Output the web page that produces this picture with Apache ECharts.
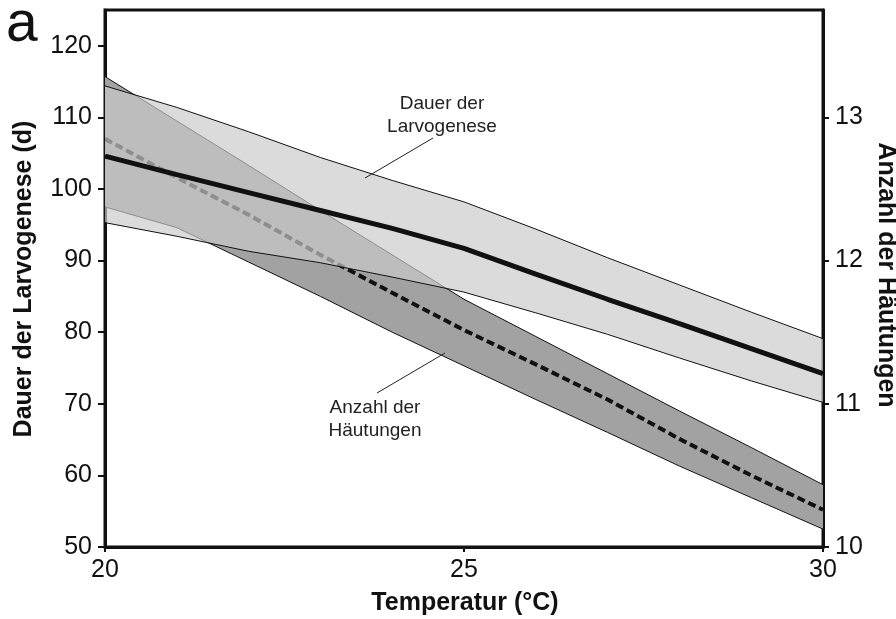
<!DOCTYPE html>
<html>
<head>
<meta charset="utf-8">
<script src="https://cdn.jsdelivr.net/npm/echarts@6/dist/echarts.min.js"></script>
<style>html,body{margin:0;padding:0;background:#fff}#c{width:896px;height:619px}</style>
</head>
<body>
<div id="c"></div>
<script>
// ---- data ----
const temperatures = ['20','21','22','23','24','25','26','27','28','29','30'];
const xTickLabels = ['20','25','30'];
const leftTicks = [50, 60, 70, 80, 90, 100, 110, 120];
const rightTicks = [10, 11, 12, 13];

// Dauer der Larvogenese (d) – left axis
const dauerFit   = [104.6, 102.0, 99.5, 97.0, 94.5, 91.7, 88.1, 84.6, 81.2, 77.7, 74.2];
const dauerUpper = [114.4, 111.4, 108.0, 104.4, 101.2, 98.2, 94.4, 90.4, 86.6, 82.8, 79.1];
const dauerLower = [95.3, 93.4, 91.3, 89.7, 87.7, 85.6, 82.7, 79.7, 76.4, 73.2, 70.2];

// Anzahl der Häutungen – right axis
const haeutFit   = [12.85, 12.58, 12.32, 12.04, 11.775, 11.515, 11.275, 11.03, 10.755, 10.5, 10.26];
const haeutUpper = [13.285, 12.975, 12.665, 12.35, 12.04, 11.73, 11.47, 11.21, 10.95, 10.695, 10.435];
const haeutLower = [12.375, 12.23, 11.99, 11.75, 11.5, 11.265, 11.03, 10.8, 10.565, 10.345, 10.125];

const xTitle = 'Temperatur (°C)';
const yLeftTitle = 'Dauer der Larvogenese (d)';
const yRightTitle = 'Anzahl der Häutungen';
const panelLabel = 'a';
const noteDauer = 'Dauer der\nLarvogenese';
const noteHaeut = 'Anzahl der\nHäutungen';

// ---- chart ----
const FONT = "'Liberation Sans', Arial, sans-serif";
const dauerWidth = dauerUpper.map((v, i) => +(v - dauerLower[i]).toFixed(3));
const haeutWidth = haeutUpper.map((v, i) => +(v - haeutLower[i]).toFixed(3));

const chart = echarts.init(document.getElementById('c'), null, {renderer: 'canvas'});
const edge = {color: '#111', width: 1};
const option = {
  animation: false,
  backgroundColor: '#fff',
  grid: {left: 105, right: 73, top: 10, bottom: 72, show: true, borderColor: '#111', borderWidth: 3, backgroundColor: 'transparent', containLabel: false},
  xAxis: {
    type: 'category', data: temperatures, boundaryGap: false,
    axisLine: {lineStyle: {color: '#111', width: 3}},
    axisTick: {interval: 4, length: 5, lineStyle: {color: '#111', width: 2}},
    axisLabel: {interval: 4, margin: 11, color: '#111', fontSize: 25, fontFamily: FONT,
      formatter: v => xTickLabels.indexOf(v) >= 0 ? v : ''},
    splitLine: {show: false}
  },
  yAxis: [{
    type: 'value', min: 50, max: 125, interval: 10, position: 'left',
    axisLine: {show: true, lineStyle: {color: '#111', width: 3}},
    axisTick: {show: true, length: 7, customValues: leftTicks, lineStyle: {color: '#111', width: 2}},
    axisLabel: {customValues: leftTicks, margin: 13, color: '#111', fontSize: 25, fontFamily: FONT},
    splitLine: {show: false}
  }, {
    type: 'value', min: 10, max: 13.75, interval: 1, position: 'right',
    axisLine: {show: true, lineStyle: {color: '#111', width: 3}},
    axisTick: {show: true, length: 6, customValues: rightTicks, lineStyle: {color: '#111', width: 2}},
    axisLabel: {customValues: rightTicks, margin: 12, color: '#111', fontSize: 25, fontFamily: FONT},
    splitLine: {show: false}
  }],
  series: [
    {name: 'Häutungen unten', type: 'line', yAxisIndex: 1, stack: 'h', data: haeutLower,
     symbol: 'none', lineStyle: edge, z: 1, silent: true, emphasis: {disabled: true}},
    {name: 'Häutungen Band', type: 'line', yAxisIndex: 1, stack: 'h', data: haeutWidth,
     symbol: 'none', lineStyle: edge, areaStyle: {color: '#a2a2a2', opacity: 1}, z: 1, silent: true, emphasis: {disabled: true}},
    {name: 'Anzahl der Häutungen', type: 'line', yAxisIndex: 1, data: haeutFit,
     symbol: 'none', lineStyle: {color: '#111', width: 4, type: [8, 4]}, z: 2, silent: true, emphasis: {disabled: true}},
    {name: 'Dauer unten', type: 'line', yAxisIndex: 0, stack: 'd', data: dauerLower,
     symbol: 'none', lineStyle: edge, z: 3, silent: true, emphasis: {disabled: true}},
    {name: 'Dauer Band', type: 'line', yAxisIndex: 0, stack: 'd', data: dauerWidth,
     symbol: 'none', lineStyle: edge, areaStyle: {color: 'rgb(202,202,202)', opacity: 0.68}, z: 3, silent: true, emphasis: {disabled: true}},
    {name: 'Dauer der Larvogenese', type: 'line', yAxisIndex: 0, data: dauerFit,
     symbol: 'none', lineStyle: {color: '#111', width: 5}, z: 4, silent: true, emphasis: {disabled: true}}
  ],
  graphic: [
    {type: 'text', left: 6, top: -3, style: {text: panelLabel, font: '57px ' + FONT, fill: '#111'}},
    {type: 'text', x: 465, y: 603, style: {text: xTitle, font: 'bold 25px ' + FONT, fill: '#111', align: 'center', verticalAlign: 'middle'}},
    {type: 'text', x: 24, y: 279, rotation: Math.PI / 2, style: {text: yLeftTitle, font: 'bold 25px ' + FONT, fill: '#111', align: 'center', verticalAlign: 'middle'}},
    {type: 'text', x: 886, y: 275, rotation: -Math.PI / 2, style: {text: yRightTitle, font: 'bold 25px ' + FONT, fill: '#111', align: 'center', verticalAlign: 'middle'}},
    {type: 'text', x: 442, y: 115, z: 10, style: {text: noteDauer, font: '19px ' + FONT, fill: '#222', align: 'center', verticalAlign: 'middle', lineHeight: 23}},
    {type: 'text', x: 375, y: 419, z: 10, style: {text: noteHaeut, font: '19px ' + FONT, fill: '#222', align: 'center', verticalAlign: 'middle', lineHeight: 23}},
    {type: 'line', z: 10, shape: {x1: 433, y1: 138, x2: 365, y2: 178}, style: {stroke: '#222', lineWidth: 1}},
    {type: 'line', z: 10, shape: {x1: 377, y1: 393, x2: 445, y2: 353}, style: {stroke: '#222', lineWidth: 1}}
  ]
};
chart.setOption(option);
</script>
</body>
</html>
